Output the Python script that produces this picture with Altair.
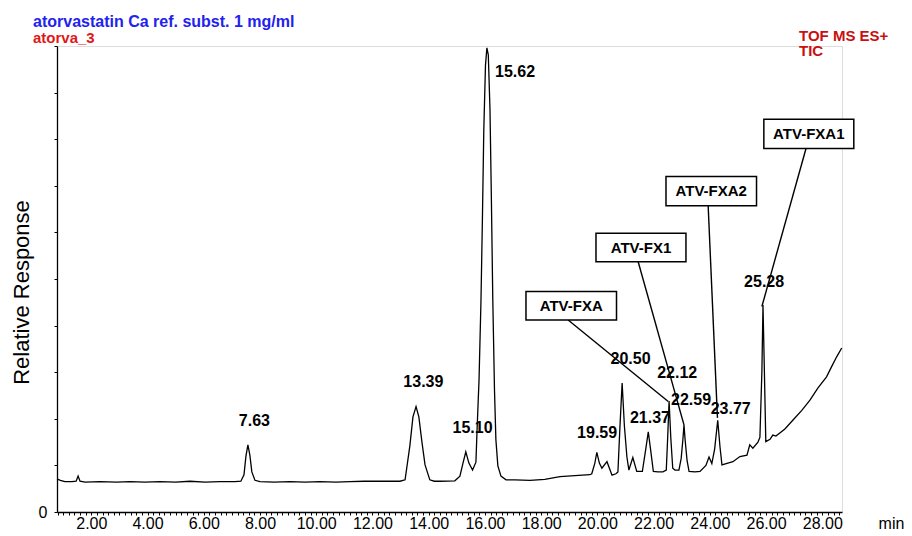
import altair as alt
import pandas as pd

# ---- chromatogram trace ----
time_min = [0.78, 0.90, 1.06, 1.31, 1.46, 1.53, 1.60, 1.78,
            2.31, 2.90, 3.38, 3.90, 4.44, 5.00, 5.51, 6.05, 6.58, 7.11,
            7.32, 7.43, 7.50, 7.57, 7.64, 7.71, 7.82,
            8.00, 8.50, 9.07, 9.60, 10.13, 10.70, 11.20, 11.70, 12.27, 12.98,
            13.16, 13.33, 13.44, 13.55, 13.65, 13.76, 13.87, 14.04,
            14.20, 14.40, 14.93,
            15.11, 15.22, 15.32, 15.43, 15.56,
            15.68, 15.72, 15.79, 15.86, 15.91, 15.96, 16.02, 16.07, 16.12, 16.18, 16.23, 16.28, 16.34, 16.39, 16.46, 16.57, 16.75,
            17.07, 17.60, 18.13, 18.67, 19.20, 19.73,
            19.80, 19.91, 19.98, 20.07, 20.16, 20.34, 20.52,
            20.66, 20.73, 20.80, 20.88, 20.96, 21.05, 21.12, 21.26,
            21.40, 21.60, 21.72, 21.81, 21.89, 21.99,
            22.15, 22.33, 22.45, 22.50, 22.55, 22.61, 22.68, 22.76,
            22.90, 22.98, 23.04, 23.08, 23.12, 23.19, 23.26,
            23.47, 23.65, 23.86, 23.97, 24.07, 24.17, 24.28, 24.36, 24.43,
            24.64, 24.82, 25.07, 25.32, 25.42,
            25.53, 25.71, 25.78, 25.85, 25.89, 25.94, 25.99, 26.14, 26.24,
            26.35, 26.67, 26.95, 27.27, 27.56, 27.84, 28.15, 28.34, 28.51, 28.69]

response = [7.1, 6.8, 6.5, 6.5, 6.6, 7.7, 6.6, 6.4,
            6.5, 6.4, 6.5, 6.4, 6.5, 6.4, 6.6, 6.4, 6.5, 6.5,
            6.6, 8.0, 12.0, 14.4, 12.2, 8.6, 6.8,
            6.5, 6.4, 6.5, 6.4, 6.5, 6.4, 6.5, 6.6, 6.6, 6.6,
            6.9, 14.2, 20.4, 22.6, 20.4, 15.0, 10.1, 6.9,
            6.6, 6.6, 6.7,
            7.7, 10.5, 12.9, 10.5, 9.0,
            10.7, 17.6, 28.3, 45.5, 62.7, 82.0, 95.9, 99.6, 98.1, 86.3, 67.0, 45.5, 26.2, 15.5, 9.9, 7.7, 6.9,
            6.9, 6.8, 7.0, 7.6, 7.8, 8.0,
            8.2, 10.5, 12.8, 10.5, 9.4, 10.8, 7.9,
            8.2, 8.6, 18.0, 27.7, 18.5, 11.8, 9.0, 11.7,
            8.7, 8.7, 13.5, 17.2, 13.5, 8.7,
            8.6, 8.6, 9.0, 16.0, 23.8, 16.0, 9.4, 9.0,
            9.0, 11.5, 15.5, 18.7, 15.5, 11.0, 8.7,
            8.6, 8.7, 10.0, 11.8, 10.4, 13.5, 19.7, 14.0, 10.1,
            10.5, 10.8, 11.9, 12.2, 14.4,
            13.7, 15.0, 16.0, 30.0, 44.4, 30.0, 15.1, 15.6, 16.5,
            16.3, 17.8, 19.7, 21.8, 24.0, 26.6, 29.0, 31.3, 33.3, 35.2]

# ---- peak retention-time labels ----
peak_text = ["7.63", "13.39", "15.10", "15.62", "19.59", "20.50",
             "21.37", "22.12", "22.59", "23.77", "25.28"]
peak_label_t = [7.80, 13.81, 15.56, 17.07, 19.99, 21.18,
                21.87, 22.84, 23.33, 24.74, 25.93]
peak_label_r = [19.5, 27.8, 18.0, 94.5, 16.9, 32.8,
                20.2, 29.9, 24.0, 22.0, 49.4]

# ---- boxed compound annotations ----
box_names = ["ATV-FXA", "ATV-FX1", "ATV-FXA2", "ATV-FXA1"]
box_t1 = [17.46, 19.95, 22.44, 25.92]
box_t2 = [20.68, 23.15, 25.66, 29.12]
box_r1 = [41.2, 53.7, 65.7, 78.0]
box_r2 = [47.3, 59.8, 72.0, 84.3]
leader_t_from = [18.96, 21.45, 23.94, 27.42]
leader_r_from = [41.2, 53.7, 65.7, 78.0]
leader_t_to = [22.52, 23.08, 24.27, 25.85]
leader_r_to = [23.7, 18.7, 20.2, 44.1]

# ---- header texts ----
header_left = ["atorvastatin Ca ref. subst. 1 mg/ml", "atorva_3"]
header_right = ["TOF MS ES+", "TIC"]

# ---- axis ticks ----
x_ticks = [round(0.8 + 0.2 * i, 1) for i in range(140)]
y_ticks = [0, 10, 20, 30, 40, 50, 60, 70, 80, 90, 100]

FONT = "Liberation Sans"

trace_df = pd.DataFrame({"t": time_min, "r": response})
peaks_df = pd.DataFrame({"label": peak_text, "t": peak_label_t, "r": peak_label_r})
boxes_df = pd.DataFrame({
    "name": box_names, "t1": box_t1, "t2": box_t2, "r1": box_r1, "r2": box_r2,
    "tc": [(a + b) / 2 for a, b in zip(box_t1, box_t2)],
    "rc": [(a + b) / 2 for a, b in zip(box_r1, box_r2)],
    "lt1": leader_t_from, "lr1": leader_r_from, "lt2": leader_t_to, "lr2": leader_r_to,
})

xscale = alt.Scale(domain=[0.78, 28.7], nice=False, zero=False)
yscale = alt.Scale(domain=[0, 100], nice=False)

x_axis = alt.Axis(
    values=x_ticks, tickCount=400,
    labelExpr="abs(datum.value/2 - round(datum.value/2)) < 0.001 ? format(datum.value, '.2f') : ''",
    labelOverlap=False, labelFont=FONT, labelFontSize=16, labelColor="black",
    labelPadding=0, tickSize=3, tickColor="black", domainColor="black",
    domainWidth=1.3, tickWidth=1, grid=False,
    title="min", titleFont=FONT, titleFontSize=16, titleFontWeight="normal",
    titleColor="black", titleX=834, titleY=11, titleAlign="center",
    titleBaseline="middle",
)
y_axis = alt.Axis(
    values=y_ticks, tickCount=100,
    labelExpr="datum.value == 0 ? '0' : ''",
    labelFont=FONT, labelFontSize=16, labelColor="black", labelPadding=7,
    tickSize=3, tickColor="black", domainColor="black", domainWidth=1.3,
    grid=False,
    title="Relative Response", titleFont=FONT, titleFontSize=22,
    titleFontWeight="normal", titleColor="black", titleX=-36, titleY=246,
    titleAlign="center", titleBaseline="middle", titleAngle=270,
)

trace = alt.Chart(trace_df).mark_line(color="black", strokeWidth=1.3).encode(
    x=alt.X("t:Q", scale=xscale, axis=x_axis),
    y=alt.Y("r:Q", scale=yscale, axis=y_axis),
)

leaders = alt.Chart(boxes_df).mark_rule(color="black", strokeWidth=1.4).encode(
    x="lt1:Q", y="lr1:Q", x2="lt2:Q", y2="lr2:Q",
)

boxes = alt.Chart(boxes_df).mark_rect(fill="white", stroke="black", strokeWidth=1.5).encode(
    x="t1:Q", x2="t2:Q", y="r1:Q", y2="r2:Q",
)

box_text = alt.Chart(boxes_df).mark_text(
    font=FONT, fontSize=15, fontWeight="bold", color="black",
    align="center", baseline="middle",
).encode(x="tc:Q", y="rc:Q", text="name:N")

peak_labels = alt.Chart(peaks_df).mark_text(
    font=FONT, fontSize=16, fontWeight="bold", color="black",
    align="center", baseline="middle",
).encode(x="t:Q", y="r:Q", text="label:N")

hl1 = alt.Chart(pd.DataFrame({"txt": [header_left[0]]})).mark_text(
    font=FONT, fontSize=16, fontWeight="bold", color="#2222ee",
    align="left", baseline="middle",
).encode(x=alt.value(-24), y=alt.value(-24.5), text="txt:N")
hl2 = alt.Chart(pd.DataFrame({"txt": [header_left[1]]})).mark_text(
    font=FONT, fontSize=15, fontWeight="bold", color="#e01818",
    align="left", baseline="middle",
).encode(x=alt.value(-24), y=alt.value(-8.5), text="txt:N")
hr1 = alt.Chart(pd.DataFrame({"txt": [header_right[0]]})).mark_text(
    font=FONT, fontSize=15, fontWeight="bold", color="#c81010",
    align="left", baseline="middle",
).encode(x=alt.value(742), y=alt.value(-10.5), text="txt:N")
hr2 = alt.Chart(pd.DataFrame({"txt": [header_right[1]]})).mark_text(
    font=FONT, fontSize=15, fontWeight="bold", color="#c81010",
    align="left", baseline="middle",
).encode(x=alt.value(742), y=alt.value(5), text="txt:N")

chart = alt.layer(trace, leaders, boxes, box_text, peak_labels, hl1, hl2, hr1, hr2).properties(
    width=785, height=466,
    autosize=alt.AutoSizeParams(type="none"),
    padding={"left": 57, "top": 46, "right": 70, "bottom": 24},
).configure_view(strokeWidth=0, stroke="transparent").configure(background="white")

chart.save("out.html", embed_options={"renderer": "svg", "actions": False})
